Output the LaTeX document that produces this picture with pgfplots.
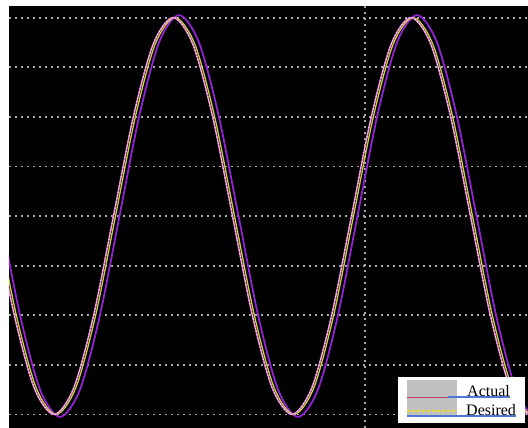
\documentclass[border=0pt]{standalone}
\usepackage{pgfplots}
\pgfplotsset{compat=1.18}
\usepackage{fontspec}
\setmainfont{Liberation Serif}
\definecolor{pinkc}{RGB}{225,120,205}
\definecolor{purplec}{RGB}{145,35,210}
\definecolor{yellowc}{RGB}{205,205,70}
\definecolor{gridc}{RGB}{170,170,170}
\definecolor{lgray}{RGB}{192,192,192}
\definecolor{lred}{RGB}{190,60,100}
\definecolor{lblue}{RGB}{80,120,210}
\definecolor{lyellow}{RGB}{235,220,40}
\begin{document}
\begin{tikzpicture}
\fill[white] (0,0) rectangle (528pt,428pt);
\begin{axis}[
  at={(9pt,0pt)}, anchor=south west,
  scale only axis, width=519pt, height=422pt,
  xmin=9, xmax=528, ymin=-4.274, ymax=4.234,
  axis background/.style={fill=black},
  axis line style={draw=none},
  xtick={365}, ytick={-4,-3,-2,-1,0,1,2,3,4},
  xticklabels={}, yticklabels={},
  tick style={draw=none},
  xmajorgrids, ymajorgrids,
  major grid style={gridc, line width=1.8pt, dash pattern=on 1.8pt off 4.2pt},
]
% lagging (purple)
\addplot[purplec, line width=1.8pt, smooth] coordinates {
(0.5,0) (20.33,-2.025) (40.17,-3.507) (60,-4.05) (79.83,-3.507) (99.67,-2.025)
(119.5,0) (139.33,2.025) (159.17,3.507) (179,4.05) (198.83,3.507) (218.67,2.025)
(238.5,0) (258.33,-2.025) (278.17,-3.507) (298,-4.05) (317.83,-3.507) (337.67,-2.025)
(357.5,0) (377.33,2.025) (397.17,3.507) (417,4.05) (436.83,3.507) (456.67,2.025)
(476.5,0) (496.33,-2.025) (516.17,-3.507) (536,-4.05) (555.83,-3.507)
};
% desired (yellow)
\addplot[yellowc, line width=1.3pt, smooth] coordinates {
(-3.5,0) (16.33,-2) (36.17,-3.464) (56,-4) (75.83,-3.464) (95.67,-2)
(115.5,0) (135.33,2) (155.17,3.464) (175,4) (194.83,3.464) (214.67,2)
(234.5,0) (254.33,-2) (274.17,-3.464) (294,-4) (313.83,-3.464) (333.67,-2)
(353.5,0) (373.33,2) (393.17,3.464) (413,4) (432.83,3.464) (452.67,2)
(472.5,0) (492.33,-2) (512.17,-3.464) (532,-4) (551.83,-3.464)
};
% actual (pink)
\addplot[pinkc, line width=1.6pt, smooth] coordinates {
(-5.5,0) (14.33,-2) (34.17,-3.464) (54,-4) (73.83,-3.464) (93.67,-2)
(113.5,0) (133.33,2) (153.17,3.464) (173,4) (192.83,3.464) (212.67,2)
(232.5,0) (252.33,-2) (272.17,-3.464) (292,-4) (311.83,-3.464) (331.67,-2)
(351.5,0) (371.33,2) (391.17,3.464) (411,4) (430.83,3.464) (450.67,2)
(470.5,0) (490.33,-2) (510.17,-3.464) (530,-4) (549.83,-3.464)
};
\addplot[white!85!pinkc, line width=0.9pt, dash pattern=on 1.2pt off 2pt, smooth] coordinates {
(-5.5,0) (14.33,-2) (34.17,-3.464) (54,-4) (73.83,-3.464) (93.67,-2)
(113.5,0) (133.33,2) (153.17,3.464) (173,4) (192.83,3.464) (212.67,2)
(232.5,0) (252.33,-2) (272.17,-3.464) (292,-4) (311.83,-3.464) (331.67,-2)
(351.5,0) (371.33,2) (391.17,3.464) (411,4) (430.83,3.464) (450.67,2)
(470.5,0) (490.33,-2) (510.17,-3.464) (530,-4) (549.83,-3.464)
};
% legend
\fill[white] (398,-3.246) rectangle (525,-4.173);
\fill[lgray] (407,-3.306) rectangle (457,-4.052);
\draw[lred, line width=1pt] (407,-3.669) -- (457,-3.669);
\draw[lblue, line width=1.5pt] (448,-3.649) -- (510,-3.649);
\draw[lyellow, line width=1.2pt, dash pattern=on 3pt off 2pt] (407,-3.931) -- (457,-3.931);
\draw[lblue, line width=1.5pt] (407,-4.032) -- (516,-4.032);
\node[anchor=base west, inner sep=0pt, font=\fontsize{16}{18}\selectfont] at (467,-3.629) {Actual};
\node[anchor=base west, inner sep=0pt, font=\fontsize{16}{18}\selectfont] at (466,-4.012) {Desired};
\end{axis}
\pgfresetboundingbox
\path (0,0) rectangle (528pt,428pt);
\end{tikzpicture}
\end{document}
